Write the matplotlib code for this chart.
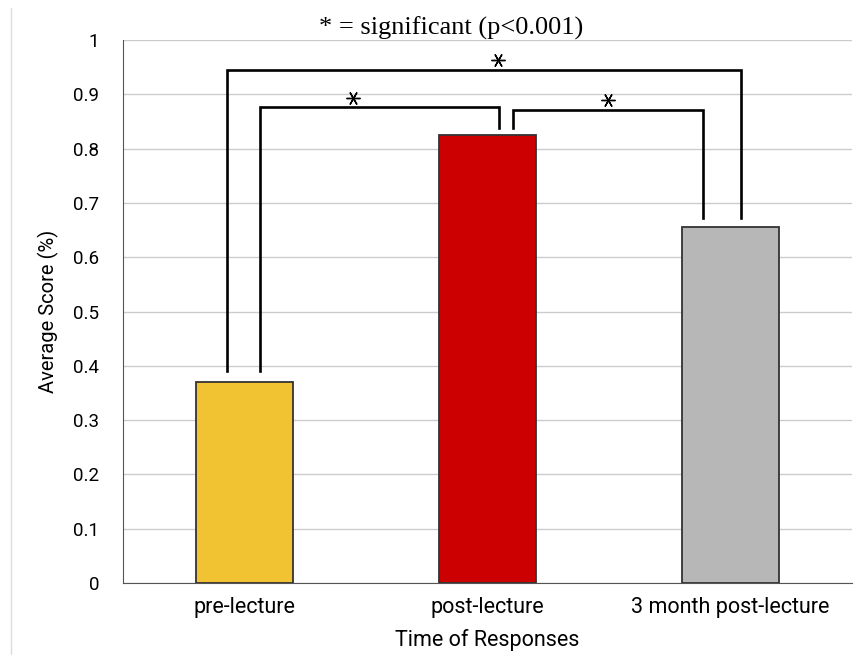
import numpy as np
import matplotlib
matplotlib.use("Agg")
import matplotlib.pyplot as plt
from matplotlib.lines import Line2D

categories = ["pre-lecture", "post-lecture", "3 month post-lecture"]
scores = [0.37, 0.825, 0.655]
colors = ["#F1C232", "#CC0000", "#B7B7B7"]
yticks = [0, 0.1, 0.2, 0.3, 0.4, 0.5, 0.6, 0.7, 0.8, 0.9, 1]

# significance brackets: (x_left, x_right, y_top, y_left_bottom, y_right_bottom)
brackets = [
    (-0.072, 2.045, 0.945, 0.39, 0.672),
    (0.064, 1.047, 0.877, 0.39, 0.838),
    (1.105, 1.887, 0.871, 0.838, 0.672),
]
star_x = [1.043, 0.447, 1.496]
star_y = [0.963, 0.893, 0.889]

plt.rcParams['font.family'] = ['Roboto', 'DejaVu Sans']

fig = plt.figure(figsize=(8.64, 6.55), dpi=100)
ax = fig.add_axes([0.1424, 0.1099, 0.8437, 0.8290])

x = np.arange(len(categories))
ax.bar(x, scores, width=0.4, color=colors, edgecolor="#333333", linewidth=1.3, zorder=3)

ax.set_xlim(-0.5, 2.5)
ax.set_ylim(0, 1)
ax.set_yticks(yticks)
ax.set_yticklabels(["%g" % t for t in yticks], fontsize=13.5)
ax.set_xticks(x)
ax.set_xticklabels(categories, fontsize=15.5)
ax.tick_params(axis='x', length=0, pad=10)
ax.tick_params(axis='y', length=0, pad=17)
ax.grid(axis='y', color="#cccccc", linewidth=1, zorder=0)
ax.set_axisbelow(True)
for s in ["top", "right"]:
    ax.spines[s].set_visible(False)
ax.spines["left"].set_color("#555555")
ax.spines["bottom"].set_color("#555555")

ax.set_ylabel("Average Score (%)", fontsize=14.5, labelpad=10)
ax.set_xlabel("Time of Responses", fontsize=15.5, labelpad=8)

for xl, xr, yt, ybl, ybr in brackets:
    ax.plot([xl, xl, xr, xr], [ybl, yt, yt, ybr], color="black", linewidth=1.9,
            solid_joinstyle="miter", zorder=4, clip_on=False)

ax.plot(star_x, star_y, linestyle="none", marker=(6, 2, 90), markersize=10,
        markeredgewidth=1.0, color="black", zorder=5, clip_on=False)

ax.text(0.85, 1.022, "* = significant (p<0.001)", ha="center", va="center",
        fontsize=19, family="Liberation Serif", clip_on=False)

fig.add_artist(Line2D([11 / 864, 11 / 864], [0, 1 - 8 / 655], color="#dddddd", linewidth=1))

fig.savefig("out.png", dpi=100)
